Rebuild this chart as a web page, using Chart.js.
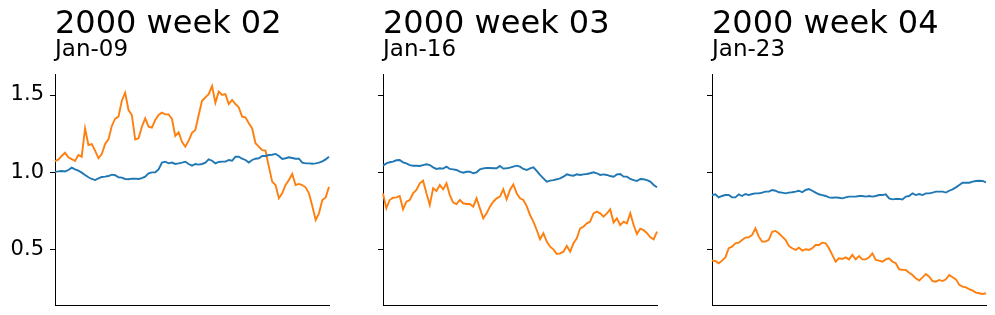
<!DOCTYPE html>
<html>
<head>
<meta charset="utf-8">
<script src="https://cdn.jsdelivr.net/npm/chart.js@4/dist/chart.umd.min.js"></script>
<style>
  html, body { margin: 0; padding: 0; background: #fff; }
  body { width: 995px; height: 315px; position: relative; overflow: hidden; }
  .panel { position: absolute; top: 0; }
</style>
</head>
<body>
<div class="panel" id="p0" style="left:0px"><canvas id="c0" width="333" height="315"></canvas></div>
<div class="panel" id="p1" style="left:333px"><canvas id="c1" width="328" height="315"></canvas></div>
<div class="panel" id="p2" style="left:661px"><canvas id="c2" width="329" height="315"></canvas></div>
<script>
// ---------- data ----------
const titles = ["2000 week 02", "2000 week 03", "2000 week 04"];
const subtitles = ["Jan-09", "Jan-16", "Jan-23"];
const yTicks = [0.5, 1.0, 1.5];
const yMin = 0.142;
const yMax = 1.636;

const week02Blue = [1.004,1.006,1.009,1.006,1.015,1.030,1.019,1.011,0.998,0.983,
  0.968,0.957,0.950,0.961,0.970,0.972,0.976,0.985,0.981,0.968,
  0.966,0.957,0.955,0.959,0.959,0.957,0.963,0.972,0.994,1.000,
  1.000,1.019,1.063,1.069,1.058,1.063,1.054,1.058,1.063,1.069,
  1.054,1.043,1.054,1.050,1.054,1.063,1.084,1.075,1.058,1.067,
  1.069,1.069,1.080,1.075,1.101,1.101,1.088,1.080,1.063,1.080,
  1.088,1.091,1.106,1.106,1.112,1.114,1.119,1.106,1.086,1.091,
  1.097,1.093,1.088,1.088,1.063,1.058,1.058,1.056,1.058,1.063,
  1.071,1.084,1.101];
const week02Orange = [1.073,1.082,1.106,1.127,1.097,1.086,1.073,1.112,1.101,1.284,
  1.177,1.183,1.140,1.091,1.118,1.183,1.213,1.300,1.347,1.360,
  1.463,1.515,1.403,1.371,1.213,1.220,1.295,1.349,1.295,1.289,
  1.338,1.371,1.386,1.375,1.375,1.345,1.235,1.259,1.198,1.166,
  1.205,1.256,1.274,1.371,1.463,1.485,1.506,1.558,1.450,1.522,
  1.500,1.506,1.442,1.468,1.442,1.420,1.360,1.356,1.317,1.284,
  1.188,1.166,1.144,1.140,1.037,0.940,0.918,0.832,0.864,0.918,
  0.950,0.989,0.918,0.925,0.918,0.903,0.864,0.782,0.692,0.735,
  0.821,0.838,0.907];

const week03Blue = [1.043,1.058,1.065,1.069,1.078,1.080,1.065,1.058,1.047,1.043,
  1.043,1.041,1.047,1.052,1.047,1.032,1.022,1.026,1.024,1.037,
  1.022,1.019,1.015,1.004,0.998,1.004,1.004,0.994,1.000,1.019,
  1.026,1.028,1.028,1.026,1.026,1.041,1.024,1.026,1.030,1.037,
  1.043,1.037,1.022,1.015,1.026,1.032,1.009,0.983,0.961,0.940,
  0.946,0.950,0.955,0.961,0.972,0.987,0.981,0.978,0.987,0.983,
  0.987,0.989,0.994,1.000,0.994,0.983,0.987,0.983,0.976,0.972,
  0.987,0.989,0.972,0.972,0.957,0.950,0.944,0.957,0.955,0.950,
  0.940,0.918,0.903];
const week03Orange = [0.864,0.767,0.821,0.836,0.838,0.847,0.761,0.810,0.821,0.864,
  0.886,0.929,0.946,0.864,0.789,0.897,0.879,0.918,0.890,0.929,
  0.853,0.804,0.795,0.821,0.800,0.795,0.795,0.778,0.832,0.767,
  0.703,0.735,0.778,0.810,0.832,0.843,0.890,0.825,0.886,0.922,
  0.864,0.832,0.821,0.782,0.724,0.681,0.627,0.567,0.606,0.552,
  0.519,0.502,0.472,0.476,0.487,0.524,0.487,0.541,0.573,0.638,
  0.649,0.670,0.681,0.735,0.746,0.735,0.713,0.735,0.761,0.675,
  0.703,0.659,0.681,0.670,0.735,0.659,0.601,0.636,0.627,0.606,
  0.580,0.567,0.616];

const week04Blue = [0.853,0.858,0.838,0.847,0.853,0.853,0.838,0.838,0.858,0.847,
  0.860,0.853,0.860,0.864,0.864,0.869,0.875,0.875,0.886,0.881,
  0.871,0.869,0.864,0.869,0.871,0.875,0.881,0.871,0.886,0.892,
  0.881,0.869,0.858,0.853,0.847,0.838,0.836,0.838,0.836,0.832,
  0.838,0.843,0.843,0.843,0.847,0.847,0.843,0.847,0.843,0.847,
  0.853,0.853,0.858,0.832,0.825,0.828,0.828,0.825,0.843,0.847,
  0.864,0.853,0.860,0.853,0.864,0.864,0.869,0.875,0.875,0.875,
  0.869,0.881,0.890,0.903,0.918,0.933,0.933,0.933,0.940,0.944,
  0.946,0.944,0.935];
const week04Orange = [0.429,0.427,0.412,0.429,0.450,0.509,0.519,0.541,0.545,0.563,
  0.578,0.580,0.595,0.638,0.584,0.552,0.552,0.563,0.616,0.621,
  0.606,0.584,0.563,0.524,0.509,0.498,0.513,0.494,0.502,0.498,
  0.509,0.530,0.530,0.545,0.541,0.509,0.466,0.422,0.444,0.440,
  0.450,0.437,0.466,0.437,0.459,0.437,0.437,0.450,0.476,0.433,
  0.429,0.422,0.437,0.444,0.422,0.412,0.373,0.369,0.369,0.351,
  0.336,0.315,0.300,0.321,0.343,0.325,0.297,0.293,0.304,0.297,
  0.308,0.336,0.321,0.308,0.272,0.261,0.256,0.244,0.235,0.222,
  0.218,0.213,0.218];

const blueSeries = [week02Blue, week03Blue, week04Blue];
const orangeSeries = [week02Orange, week03Orange, week04Orange];

// ---------- styling ----------
const FONT = "'DejaVu Sans', sans-serif";
const BLUE = "#1f77b4";
const ORANGE = "#ff7f0e";
const axisWidths = [55, 50, 51];

for (let p = 0; p < 3; p++) {
  const n = Math.max(blueSeries[p].length, orangeSeries[p].length);
  const labels = Array.from({length: n}, (_, i) => i);
  const showLabels = p === 0;
  new Chart(document.getElementById('c' + p), {
    type: 'line',
    data: {
      labels: labels,
      datasets: [
        { data: blueSeries[p], borderColor: BLUE, backgroundColor: BLUE, borderWidth: 1.9, pointRadius: 0, tension: 0, fill: false },
        { data: orangeSeries[p], borderColor: ORANGE, backgroundColor: ORANGE, borderWidth: 1.9, pointRadius: 0, tension: 0, fill: false }
      ]
    },
    options: {
      responsive: false,
      animation: false,
      events: [],
      layout: { padding: { left: 0, right: 4, top: 0, bottom: 10 } },
      plugins: {
        legend: { display: false },
        tooltip: { enabled: false },
        title: {
          display: true, text: titles[p], align: 'start', fullSize: false, color: '#000',
          font: { family: FONT, size: 32, weight: 'normal', lineHeight: 0.9 },
          padding: { top: 10, bottom: 0 }
        },
        subtitle: {
          display: true, text: subtitles[p], align: 'start', fullSize: false, color: '#000',
          font: { family: FONT, size: 23, weight: 'normal', lineHeight: 1.0 },
          padding: { top: 0, bottom: 12.2 }
        }
      },
      scales: {
        x: {
          type: 'category',
          offset: false,
          grid: { display: false, drawTicks: false },
          ticks: { display: false },
          border: { display: true, color: '#000', width: 1 },
          afterFit: (s) => { s.height = 0; s.paddingLeft = 0; s.paddingRight = 0; }
        },
        y: {
          type: 'linear',
          min: yMin, max: yMax,
          afterBuildTicks: (s) => { s.ticks = yTicks.map(v => ({ value: v })); },
          ticks: {
            display: showLabels, color: '#000', padding: 6,
            font: { family: FONT, size: 21 },
            callback: (v) => Number(v).toFixed(1)
          },
          grid: { display: true, drawOnChartArea: false, drawTicks: true, tickLength: 5, color: '#000', lineWidth: 1 },
          border: { display: true, color: '#000', width: 1 },
          afterFit: (s) => { s.width = axisWidths[p]; s.paddingTop = 0; s.paddingBottom = 0; }
        }
      }
    }
  });
}
</script>
</body>
</html>
